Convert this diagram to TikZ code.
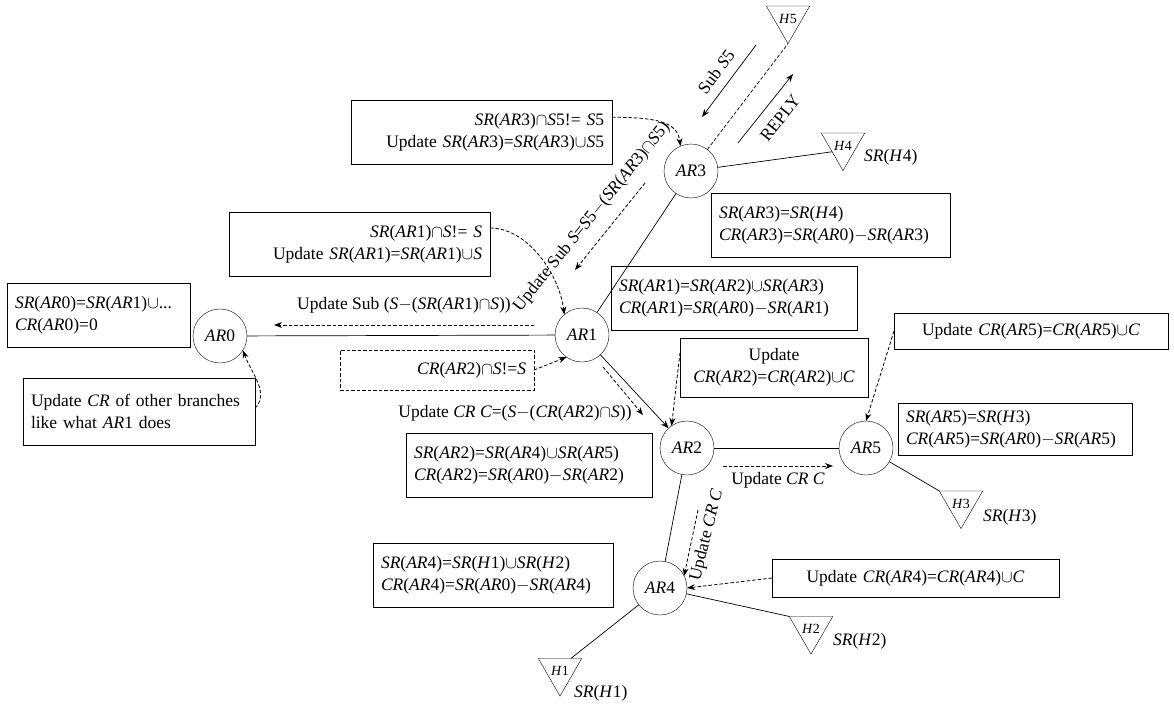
\documentclass[tikz,border=0pt]{standalone}
\usepackage{fontspec}
\setmainfont{Liberation Serif}
\usetikzlibrary{calc, arrows.meta, shapes.geometric}
\newcommand{\AR}[1]{\textit{AR}#1}
\newcommand{\SRf}[1]{\textit{SR}(#1)}
\newcommand{\CRf}[1]{\textit{CR}(#1)}
\newcommand{\Hh}[1]{\textit{H}#1}
\newcommand{\Sv}{\textit{S}}
\newcommand{\Cv}{\textit{C}}
\tikzset{
  router node/.style={draw, circle, minimum size=54pt, inner sep=0pt, outer sep=0pt},
  host node/.style={draw, regular polygon, regular polygon sides=3, shape border rotate=180,
    minimum size=50pt, inner sep=0pt, outer sep=0pt, font=\fontsize{14}{16}\selectfont},
  info box/.style={draw, inner xsep=8pt, inner ysep=0pt, outer sep=0pt, minimum height=64pt},
  cond box/.style={info box, dash pattern=on 3.5pt off 2pt},
  tag text/.style={inner sep=0pt},
  link line/.style={line width=0.7pt},
  send line/.style={line width=0.7pt, ->},
  msg line/.style={line width=0.8pt, dash pattern=on 3.5pt off 2pt, ->},
  >={Stealth[length=8pt, width=6pt]},
}

\begin{document}
\begin{tikzpicture}[x=1pt, y=-1pt, font=\fontsize{17.5}{22}\selectfont]
  \useasboundingbox (0,0) rectangle (1174,706);
  % routers and hosts
  \node[router node] (AR0) at (220,336) {\AR0};
  \node[router node] (AR1) at (582,335) {\AR1};
  \node[router node] (AR3) at (691,171) {\AR3};
  \node[router node] (AR2) at (687,448) {\AR2};
  \node[router node] (AR5) at (866,448) {\AR5};
  \node[router node] (AR4) at (660,588) {\AR4};
  \node[host node] (H5) at (788,18.5) {\Hh5};
  \node[host node] (H4) at (843,145.5) {\Hh4};
  \node[host node] (H3) at (961,503.5) {\Hh3};
  \node[host node] (H2) at (811,629) {\Hh2};
  \node[host node] (H1) at (560,671) {\Hh1};
  \node[tag text, anchor=west] (SRH4) at (864,157) {\SRf{\Hh4}};
  \node[tag text, anchor=west] (SRH3) at (983,517) {\SRf{\Hh3}};
  \node[tag text, anchor=west] (SRH2) at (833,641) {\SRf{\Hh2}};
  \node[tag text, anchor=west] (SRH1) at (574,693) {\SRf{\Hh1}};

  % boxes
  \node[info box, anchor=north east, text width=245pt, align=right] (B1) at (612,100)
    {\SRf{\AR3}$\cap$\Sv5!= \Sv5\\Update \SRf{\AR3}=\SRf{\AR3}$\cup$\Sv5};
  \node[info box, anchor=north east, text width=245pt, align=right] (B2) at (490,212)
    {\SRf{\AR1}$\cap$\Sv!= \Sv\\Update \SRf{\AR1}=\SRf{\AR1}$\cup$\Sv};
  \node[info box, anchor=north west, text width=167pt, align=left] (B3) at (7,283)
    {\SRf{\AR0}=\SRf{\AR1}$\cup$...\\\CRf{\AR0}=0};
  \node[info box, anchor=north west, text width=216pt, align=left, minimum height=67pt] (B4) at (23,378)
    {Update \textit{CR} of other branches\\like what \AR1 does};
  \node[info box, anchor=north west, text width=223pt, align=left] (B5) at (711,193)
    {\SRf{\AR3}=\SRf{\Hh4}\\\CRf{\AR3}=\SRf{\AR0}$-$\SRf{\AR3}};
  \node[info box, anchor=north west, text width=230pt, align=left] (B6) at (611,266)
    {\SRf{\AR1}=\SRf{\AR2}$\cup$\SRf{\AR3}\\\CRf{\AR1}=\SRf{\AR0}$-$\SRf{\AR1}};
  \node[cond box, anchor=north east, text width=178pt, align=right, minimum height=40pt] (BC) at (534,350)
    {\CRf{\AR2}$\cap$\Sv!=\Sv};
  \node[info box, anchor=north west, text width=172pt, align=center, minimum height=59pt] (BU2) at (680,338)
    {Update\\\CRf{\AR2}=\CRf{\AR2}$\cup$\Cv};
  \node[info box, anchor=north west, text width=258pt, align=center, minimum height=36pt] (BU5) at (894,313)
    {Update \CRf{\AR5}=\CRf{\AR5}$\cup$\Cv};
  \node[info box, anchor=north west, text width=218pt, align=left, minimum height=52pt] (B7) at (898,403)
    {\SRf{\AR5}=\SRf{\Hh3}\\\CRf{\AR5}=\SRf{\AR0}$-$\SRf{\AR5}};
  \node[info box, anchor=north west, text width=230pt, align=left] (B8) at (406,433)
    {\SRf{\AR2}=\SRf{\AR4}$\cup$\SRf{\AR5}\\\CRf{\AR2}=\SRf{\AR0}$-$\SRf{\AR2}};
  \node[info box, anchor=north west, text width=224pt, align=left] (B9) at (373,543)
    {\SRf{\AR4}=\SRf{\Hh1}$\cup$\SRf{\Hh2}\\\CRf{\AR4}=\SRf{\AR0}$-$\SRf{\AR4}};
  \node[info box, anchor=north west, text width=271pt, align=center, minimum height=38pt] (BU4) at (772,559)
    {Update \CRf{\AR4}=\CRf{\AR4}$\cup$\Cv};

  % links
  \draw[link line] (AR0) -- (AR1);
  \draw[link line] (AR1) -- (AR3);
  \draw[send line] (AR1) -- (AR2);
  \draw[link line] (AR2) -- (AR5);
  \draw[link line] (AR2) -- (AR4);
  \draw[link line] (AR3) -- (H4.side 3);
  \draw[link line, dash pattern=on 3.5pt off 2pt] (AR3) -- (H5.corner 1);
  \draw[link line] (AR5) -- (H3.corner 3);
  \draw[link line] (AR4) -- (H2.corner 3);
  \draw[link line] (AR4) -- ($(H1.corner 3)!0.75!(H1.corner 2)$);

  % messages
  \coordinate (subS5 from) at (756,45);
  \coordinate (subS5 to) at (702,117);
  \draw[send line] (subS5 from) -- (subS5 to);
  \node[rotate=53] (subS5 text) at (716,72) {Sub \Sv5};
  \coordinate (reply from) at (738,143);
  \coordinate (reply to) at (793,74);
  \draw[send line] (reply from) -- (reply to);
  \node[rotate=52] (reply text) at (780,118) {REPLY};
  \coordinate (sub3 from) at (645,183);
  \coordinate (sub3 to) at (575,270);
  \draw[msg line] (sub3 from) -- (sub3 to);
  \node[rotate=51] (sub3 text) at (592,217) {Update Sub \Sv=\Sv5$-$(\SRf{\AR3}$\cap$\Sv5)};
  \coordinate (sub1 from) at (534,325);
  \coordinate (sub1 to) at (274,325);
  \draw[msg line] (sub1 from) -- (sub1 to);
  \node (sub1 text) at (404,305) {Update Sub (\Sv$-$(\SRf{\AR1}$\cap$\Sv))};
  \coordinate (cr2 from) at (603,367);
  \coordinate (cr2 to) at (643,415);
  \draw[msg line] (cr2 from) -- (cr2 to);
  \node (cr2 text) at (515,413) {Update \textit{CR} \Cv=(\Sv$-$(\CRf{\AR2}$\cap$\Sv))};
  \coordinate (cr5 from) at (723,466);
  \coordinate (cr5 to) at (833,466);
  \draw[msg line] (cr5 from) -- (cr5 to);
  \node (cr5 text) at (778,480) {Update \textit{CR} \Cv};
  \coordinate (cr4 from) at (698,510);
  \coordinate (cr4 to) at (684,576);
  \draw[msg line] (cr4 from) -- (cr4 to);
  \node[rotate=76] (cr4 text) at (707,535) {Update \textit{CR} \Cv};

  % notes to routers
  \draw[msg line] ($(B1.north east)!0.27!(B1.south east)$) .. controls +(45,0) and +(-3,-24) .. (AR3.113);
  \draw[msg line] ($(B2.north east)!0.25!(B2.south east)$) .. controls +(38,0) and +(-5,-40) .. (AR1.131);
  \draw[msg line] ($(B4.north east)!0.45!(B4.south east)$) .. controls +(15,-15) and +(8,22) .. (AR0.-32);
  \draw[msg line] (BC.east) -- (AR1.-125);
  \draw[msg line] ($(BU2.north west)!0.25!(BU2.south west)$) -- (AR2.125);
  \draw[msg line] (BU5.west) -- (AR5.north);
  \draw[msg line] (BU4.west) -- (AR4.east);
\end{tikzpicture}
\end{document}
